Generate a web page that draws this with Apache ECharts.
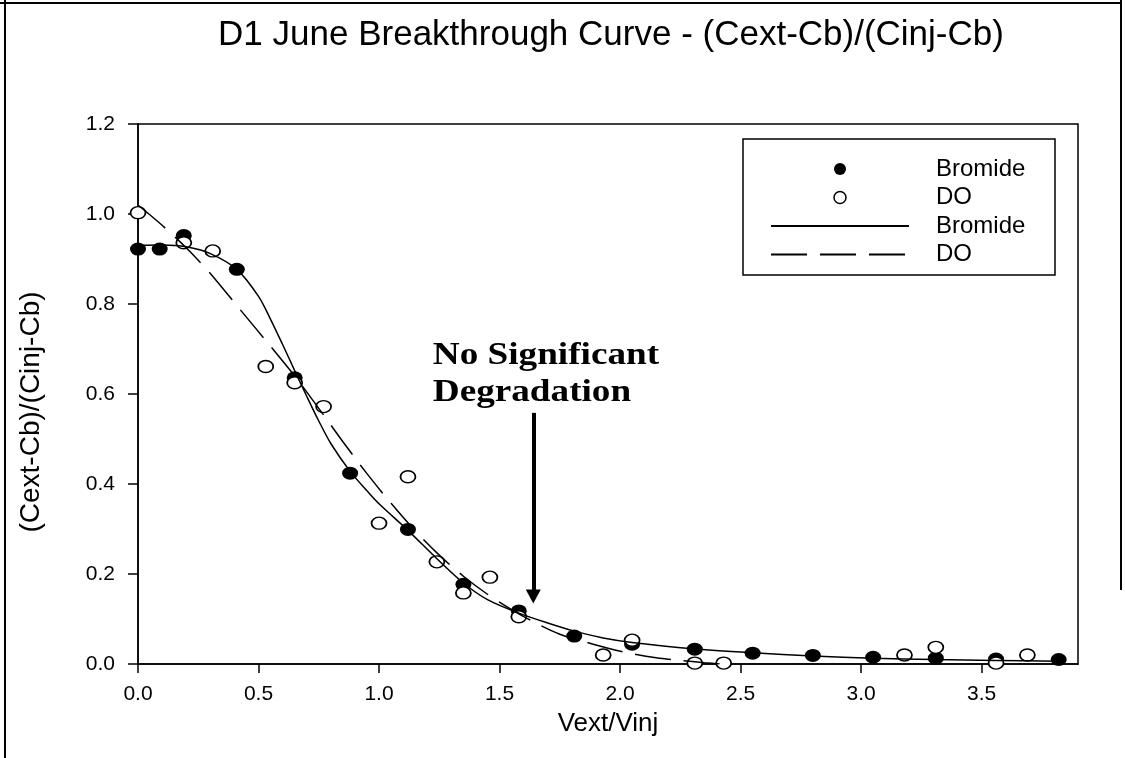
<!DOCTYPE html>
<html><head><meta charset="utf-8">
<script src="https://cdn.jsdelivr.net/npm/echarts@6/dist/echarts.min.js"></script>
<style>html,body{margin:0;padding:0;background:#fff}#c{width:1125px;height:758px}</style>
</head><body><div id="c"></div>
<script>
// ---- texts ----
const titleText = 'D1 June Breakthrough Curve - (Cext-Cb)/(Cinj-Cb)';
const xName = 'Vext/Vinj';
const yName = '(Cext-Cb)/(Cinj-Cb)';
const annotationLines = ['No Significant', 'Degradation'];
// ---- ticks ----
const xTicks = [0, 0.5, 1.0, 1.5, 2.0, 2.5, 3.0, 3.5];
const yTicks = [0, 0.2, 0.4, 0.6, 0.8, 1.0, 1.2];
// ---- measured points ----
const bromideX = [0, 0.09, 0.19, 0.41, 0.65, 0.88, 1.12, 1.35, 1.58, 1.81, 2.05, 2.31, 2.55, 2.80, 3.05, 3.31, 3.56, 3.82];
const bromideY = [0.922, 0.922, 0.952, 0.877, 0.636, 0.424, 0.299, 0.177, 0.118, 0.062, 0.044, 0.033, 0.024, 0.019, 0.015, 0.013, 0.011, 0.010];
const doX = [0, 0.19, 0.31, 0.53, 0.65, 0.77, 1.00, 1.12, 1.24, 1.35, 1.46, 1.58, 1.93, 2.05, 2.31, 2.43, 3.18, 3.31, 3.56, 3.69];
const doY = [1.003, 0.936, 0.918, 0.661, 0.625, 0.572, 0.313, 0.416, 0.227, 0.158, 0.193, 0.105, 0.020, 0.053, 0.002, 0.002, 0.020, 0.037, 0.002, 0.020];
// ---- fitted curves ----
const bromFitX = [0, 0.1, 0.2, 0.3, 0.41, 0.5, 0.55, 0.6, 0.65, 0.7, 0.75, 0.8, 0.88, 0.95, 1.0, 1.12, 1.24, 1.35, 1.45, 1.58, 1.7, 1.81, 1.93, 2.05, 2.3, 2.55, 2.8, 3.05, 3.3, 3.56, 3.82];
const bromFitY = [0.93, 0.931, 0.927, 0.912, 0.877, 0.817, 0.766, 0.71, 0.652, 0.595, 0.54, 0.49, 0.428, 0.385, 0.356, 0.297, 0.234, 0.18, 0.143, 0.113, 0.091, 0.073, 0.058, 0.048, 0.034, 0.025, 0.018, 0.013, 0.010, 0.008, 0.006];
const doFitX = [0, 0.1, 0.2, 0.3, 0.42, 0.55, 0.65, 0.75, 0.85, 0.95, 1.05, 1.15, 1.25, 1.35, 1.45, 1.55, 1.65, 1.75, 1.85, 1.95, 2.05, 2.15, 2.25, 2.35, 2.42];
const doFitY = [1.02, 0.975, 0.925, 0.868, 0.79, 0.706, 0.64, 0.568, 0.494, 0.423, 0.357, 0.296, 0.242, 0.195, 0.155, 0.121, 0.091, 0.066, 0.05, 0.035, 0.023, 0.014, 0.008, 0.003, 0.0];
// ---- annotation arrow ----
const arrowX = [1.64];
const arrowY = [0.558, 0.15];
const annotationX = [1.223];
const annotationY = [0.649, 0.567];

const zip = (a, b) => a.map((v, i) => [v, b[i]]);
const FONT = '"Liberation Sans", Arial, sans-serif';
const chart = echarts.init(document.getElementById('c'), null, {renderer: 'canvas'});

const option = {
  animation: false,
  backgroundColor: '#fff',
  title: {
    text: titleText, left: 606, top: 13, textAlign: 'center',
    textStyle: {fontSize: 35, fontWeight: 'normal', fontFamily: FONT, color: '#000'}
  },
  grid: {left: 138, right: 47, top: 124, bottom: 94, show: true, borderColor: '#000', borderWidth: 1.5, backgroundColor: 'transparent'},
  xAxis: {
    type: 'value', min: 0, max: 3.9, interval: 0.5,
    name: xName, nameLocation: 'middle', nameGap: 47,
    nameTextStyle: {fontSize: 26, fontFamily: FONT, color: '#000'},
    axisLine: {show: true, lineStyle: {color: '#000', width: 1.5}},
    axisTick: {show: true, inside: false, length: 9, lineStyle: {color: '#000', width: 1.5}, customValues: xTicks},
    axisLabel: {customValues: xTicks, formatter: v => v.toFixed(1), fontSize: 21, fontFamily: FONT, color: '#000', margin: 20},
    splitLine: {show: false}
  },
  yAxis: {
    type: 'value', min: 0, max: 1.2, interval: 0.2,
    name: yName, nameLocation: 'middle', nameGap: 93, nameRotate: 90,
    nameTextStyle: {fontSize: 28, fontFamily: FONT, color: '#000', padding: [0, 36, 0, 0]},
    axisLine: {show: true, lineStyle: {color: '#000', width: 1.5}},
    axisTick: {show: true, inside: false, length: 10, lineStyle: {color: '#000', width: 1.5}, customValues: yTicks},
    axisLabel: {customValues: yTicks, formatter: v => v.toFixed(1), fontSize: 21, fontFamily: FONT, color: '#000', margin: 23},
    splitLine: {show: false}
  },
  legend: {
    orient: 'vertical', left: 765, top: 152, itemWidth: 138, itemHeight: 12, itemGap: 4.5,
    selectedMode: false,
    data: [
      {name: 'Bromide', itemStyle: {color: '#000', opacity: 1}},
      {name: 'DO', itemStyle: {color: '#fff', borderColor: '#000', borderWidth: 1.5, opacity: 1}},
      {name: 'Bromide fit', itemStyle: {color: 'rgba(0,0,0,0)', borderColor: 'rgba(0,0,0,0)', borderWidth: 0}},
      {name: 'DO fit', itemStyle: {color: 'rgba(0,0,0,0)', borderColor: 'rgba(0,0,0,0)', borderWidth: 0}}
    ],
    formatter: n => n.replace(' fit', ''),
    textStyle: {fontSize: 24, fontFamily: FONT, color: '#000', padding: [0, 0, 0, 22], lineHeight: 22}
  },
  series: [
    {
      name: 'Bromide', type: 'scatter', data: zip(bromideX, bromideY),
      symbol: 'circle', symbolSize: [16, 13], itemStyle: {color: '#000', opacity: 1}, z: 3
    },
    {
      name: 'DO', type: 'scatter', data: zip(doX, doY),
      symbol: 'circle', symbolSize: [15, 12], itemStyle: {color: '#fff', borderColor: '#000', borderWidth: 1.6, opacity: 1}, z: 3
    },
    {
      name: 'Bromide fit', type: 'line', data: zip(bromFitX, bromFitY),
      symbol: 'none', smooth: 0.3,
      lineStyle: {color: '#000', width: 1.5}, itemStyle: {color: '#000'}, z: 4
    },
    {
      name: 'DO fit', type: 'line', data: zip(doFitX, doFitY),
      symbol: 'none', smooth: 0.3,
      lineStyle: {color: '#000', width: 1.5, type: [36, 13]}, itemStyle: {color: '#000'}, z: 4
    },
    {
      name: 'arrow', type: 'line', data: [], z: 5,
      markLine: {
        silent: true, animation: false,
        symbol: ['none', 'triangle'], symbolSize: [15, 14],
        lineStyle: {color: '#000', width: 4, type: 'solid'},
        label: {show: false},
        data: [[{coord: [arrowX[0], arrowY[0]]}, {coord: [arrowX[0], arrowY[1]]}]]
      }
    }
  ],
  graphic: [
    {type: 'rect', shape: {x: 743, y: 139, width: 312, height: 136}, style: {fill: 'none', stroke: '#000', lineWidth: 1.5}, z: 10},
    {type: 'line', shape: {x1: 5, y1: 0, x2: 5, y2: 758}, style: {stroke: '#000', lineWidth: 2}},
    {type: 'line', shape: {x1: 0, y1: 3, x2: 1122, y2: 3}, style: {stroke: '#000', lineWidth: 2}},
    {type: 'line', shape: {x1: 1121, y1: 0, x2: 1121, y2: 590}, style: {stroke: '#000', lineWidth: 2}}
  ]
};
chart.setOption(option);

// annotation text positioned through the chart's own scales
const g = option.graphic.slice();
annotationLines.forEach((t, i) => {
  const p = chart.convertToPixel({gridIndex: 0}, [annotationX[0], annotationY[i]]);
  g.push({
    type: 'text', x: p[0], y: p[1], scaleX: 1.2, scaleY: 1, z: 10,
    style: {text: t, font: 'bold 31px "Liberation Serif", "Times New Roman", serif', fill: '#000', textAlign: 'left', textVerticalAlign: 'bottom'}
  });
});
chart.setOption({graphic: g}, {replaceMerge: ['graphic']});
</script>
</body></html>
